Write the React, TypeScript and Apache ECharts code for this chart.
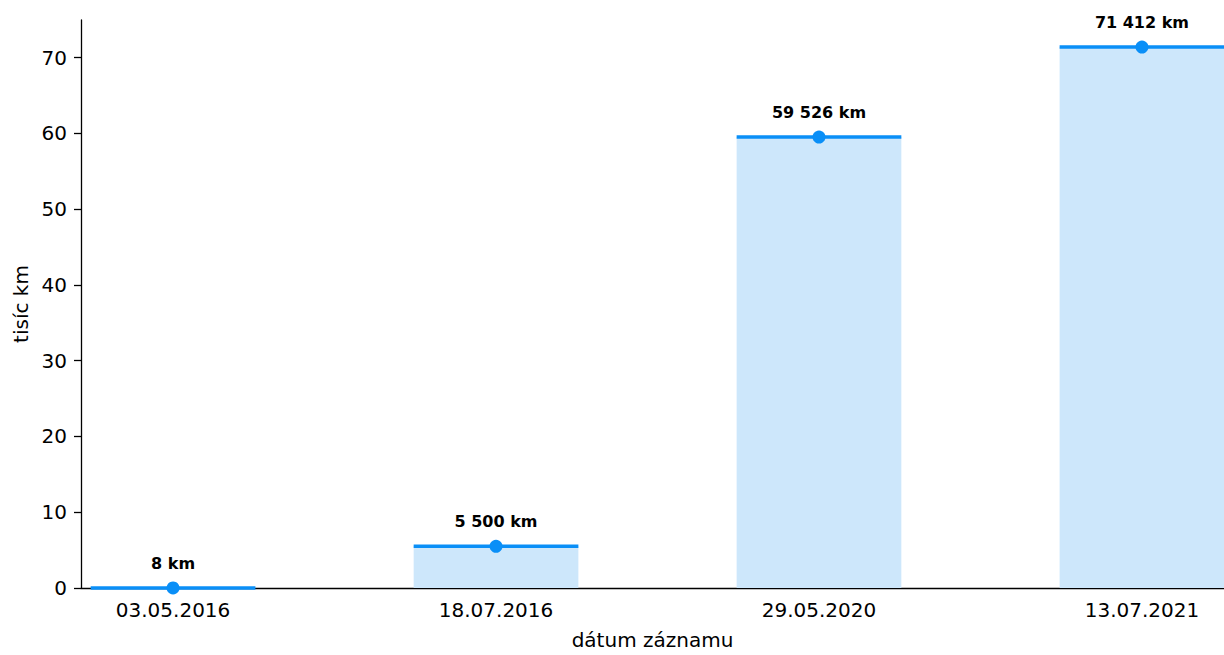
import React, { useEffect, useRef } from "react";
import * as echarts from "echarts";

const categories = ["03.05.2016", "18.07.2016", "29.05.2020", "13.07.2021"];
const distancesKm = [8, 5500, 59526, 71412];
const yTicks = [0, 10, 20, 30, 40, 50, 60, 70];

const LINE_COLOR = "#0a8ff7";
const FILL_COLOR = "#cde7fb";
const FONT = "DejaVu Sans";

function fmtKm(v: number): string {
  return String(v).replace(/\B(?=(\d{3})+(?!\d))/g, " ") + " km";
}

export default function App() {
  const ref = useRef<HTMLDivElement>(null);
  useEffect(() => {
    if (!ref.current) return;
    const chart = echarts.init(ref.current, undefined, { renderer: "svg" });
    const pts = distancesKm.map((v, i) => [i, v / 1000]);
    const halfW = 0.255;
    chart.setOption({
      animation: false,
      grid: { left: 81, right: 0, top: 20, bottom: 62, containLabel: false },
      xAxis: {
        type: "value",
        min: -0.285,
        max: 3.254,
        name: "dátum záznamu",
        nameLocation: "middle",
        nameGap: 42,
        nameTextStyle: { fontFamily: FONT, fontSize: 20, color: "#000" },
        axisLine: { show: true, onZero: false, lineStyle: { color: "#000", width: 1.3 } },
        axisTick: { show: false },
        splitLine: { show: false },
        axisLabel: {
          fontFamily: FONT,
          fontSize: 20,
          color: "#000",
          margin: 12,
          customValues: [0, 1, 2, 3],
          formatter: (v: number) => {
            const i = Math.round(v);
            return i >= 0 && i < categories.length ? categories[i] : "";
          },
        },
      },
      yAxis: {
        type: "value",
        min: 0,
        max: 74.98,
        interval: 10,
        name: "tisíc km",
        nameLocation: "middle",
        nameGap: 50,
        nameTextStyle: { fontFamily: FONT, fontSize: 20, color: "#000" },
        axisLine: { show: true, onZero: false, lineStyle: { color: "#000", width: 1.3 } },
        axisTick: { show: true, length: 7, lineStyle: { color: "#000", width: 1.3 } },
        splitLine: { show: false },
        axisLabel: {
          fontFamily: FONT,
          fontSize: 20,
          color: "#000",
          margin: 14,
          showMaxLabel: false,
          formatter: (v: number) => (yTicks.includes(v) ? String(v) : ""),
        },
      },
      series: [
        {
          type: "custom",
          data: pts,
          z: 5,
          renderItem: (params: any, api: any) => {
            const x = api.value(0);
            const y = api.value(1);
            const p1 = api.coord([x - halfW, y]);
            const p2 = api.coord([x + halfW, 0]);
            return {
              type: "group",
              children: [
                {
                  type: "rect",
                  shape: { x: p1[0], y: p1[1], width: p2[0] - p1[0], height: p2[1] - p1[1] },
                  style: { fill: FILL_COLOR },
                },
                {
                  type: "line",
                  shape: { x1: p1[0], y1: p1[1], x2: p2[0], y2: p1[1] },
                  style: { stroke: LINE_COLOR, lineWidth: 3.5 },
                },
              ],
            };
          },
        },
        {
          type: "scatter",
          data: pts,
          z: 6,
          symbol: "circle",
          symbolSize: 13,
          itemStyle: { color: LINE_COLOR, opacity: 1 },
          label: {
            show: true,
            position: "top",
            distance: 10,
            fontFamily: FONT,
            fontSize: 16,
            fontWeight: "bold",
            color: "#000",
            formatter: (p: any) => fmtKm(distancesKm[p.dataIndex]),
          },
        },
      ],
    });
    return () => chart.dispose();
  }, []);
  return <div ref={ref} style={{ width: 1224, height: 655, position: "absolute", left: 0, top: 0 }} />;
}
